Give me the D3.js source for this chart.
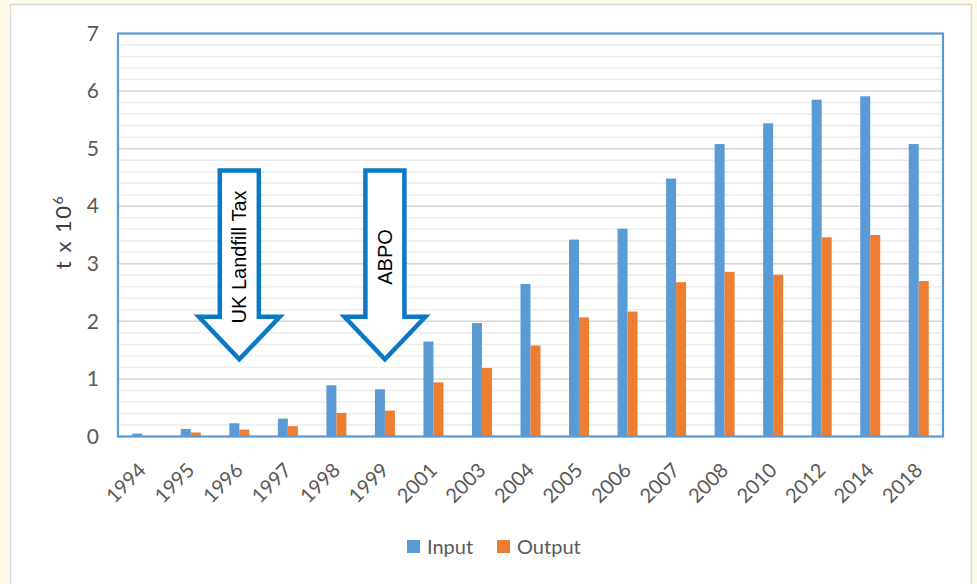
<!DOCTYPE html>
<html>
<head>
<meta charset="utf-8">
<script src="https://cdn.jsdelivr.net/npm/d3@7"></script>
<style>
  html, body { margin: 0; padding: 0; background: #fffbea; }
  svg { display: block; }
</style>
</head>
<body>
<svg id="chart" width="977" height="584"></svg>
<script>
// Years reported
const years = ["1994","1995","1996","1997","1998","1999","2001","2003","2004",
               "2005","2006","2007","2008","2010","2012","2014","2018"];
// Quantities, million tonnes
const inputValues  = [0.05,0.13,0.23,0.31,0.89,0.82,1.65,1.97,2.65,3.42,3.61,4.48,5.08,5.44,5.85,5.91,5.08];
const outputValues = [0.00,0.07,0.12,0.18,0.41,0.45,0.94,1.19,1.58,2.07,2.17,2.68,2.86,2.81,3.46,3.50,2.70];
const seriesNames  = ["Input", "Output"];
const yTicks = [0,1,2,3,4,5,6,7];
// Policy milestones: year, arrow top, head base and tip (in t x 10^6)
const milestoneLabels = ["UK Landfill Tax", "ABPO"];
const milestoneYears  = ["1996", "1999"];
const milestoneTop    = [4.62, 4.62];
const milestoneHead   = [2.08, 2.08];
const milestoneTip    = [1.34, 1.34];

const colors = { Input: "#5b9bd5", Output: "#ed7d31" };
const font = "Lato, 'Open Sans', sans-serif";

const svg = d3.select("#chart");

// white chart panel
svg.append("rect").attr("x", 10.5).attr("y", 4.5).attr("width", 961).attr("height", 600)
  .attr("fill", "#ffffff").attr("stroke", "#d9d9d9").attr("stroke-width", 1.5);

const m = { left: 118, right: 943, top: 33.5, bottom: 436.5 };

const x = d3.scaleBand().domain(years).range([m.left, m.right]).padding(0);
const y = d3.scaleLinear().domain([0, 7]).range([m.bottom, m.top]);

// minor gridlines
const minor = d3.range(0, 7.001, 0.2).filter(v => Math.abs(v - Math.round(v)) > 1e-6);
svg.append("g").selectAll("line").data(minor).join("line")
  .attr("x1", m.left).attr("x2", m.right)
  .attr("y1", d => y(d)).attr("y2", d => y(d))
  .attr("stroke", "#ececec").attr("stroke-width", 1.5);

// major gridlines
svg.append("g").selectAll("line").data(yTicks).join("line")
  .attr("x1", m.left).attr("x2", m.right)
  .attr("y1", d => y(d)).attr("y2", d => y(d))
  .attr("stroke", "#d6d6d6").attr("stroke-width", 1.5);

// bars
const barW = 10;
const rows = years.map((yr, i) => ({ year: yr, Input: inputValues[i], Output: outputValues[i] }));
const sub = d3.scaleBand().domain(seriesNames).range([-barW, barW]);
svg.append("g").selectAll("g").data(rows).join("g")
  .attr("transform", d => `translate(${x(d.year) + x.bandwidth() / 2},0)`)
  .selectAll("rect").data(d => seriesNames.map(s => ({ s, v: d[s] }))).join("rect")
  .attr("x", d => sub(d.s)).attr("width", sub.bandwidth())
  .attr("y", d => y(d.v)).attr("height", d => y(0) - y(d.v))
  .attr("fill", d => colors[d.s]);

// plot area frame
svg.append("rect").attr("x", m.left).attr("y", m.top)
  .attr("width", m.right - m.left).attr("height", m.bottom - m.top)
  .attr("fill", "none").attr("stroke", "#5b9bd5").attr("stroke-width", 2.2);

// y axis labels
const yAxis = d3.axisLeft(y).tickValues(yTicks).tickFormat(d3.format("d")).tickSize(0).tickPadding(19);
const gy = svg.append("g").attr("transform", `translate(${m.left},0)`).call(yAxis);
gy.select(".domain").remove();
gy.selectAll("text").attr("font-family", font).attr("font-size", 21).attr("fill", "#595959");

// x axis labels, rotated
const xAxis = d3.axisBottom(x).tickSize(0).tickPadding(0);
const gx = svg.append("g").attr("transform", `translate(0,${m.bottom})`).call(xAxis);
gx.select(".domain").remove();
gx.selectAll("text")
  .attr("font-family", font).attr("font-size", 20).attr("fill", "#595959")
  .attr("text-anchor", "end")
  .attr("transform", "translate(0,30) rotate(-45)")
  .attr("dy", "0.35em").attr("y", 0);

// y axis title
const yt = svg.append("text")
  .attr("transform", `translate(71,232) rotate(-90)`)
  .attr("text-anchor", "middle")
  .attr("font-family", font).attr("font-size", 22).attr("letter-spacing", 1.5)
  .attr("fill", "#404040");
yt.append("tspan").text("t x 10");
yt.append("tspan").text("6").attr("font-size", 14).attr("dy", "-0.6em");

// milestone arrows
const shaftHalf = 19.5, headHalf = 40.5;
milestoneLabels.forEach((label, i) => {
  const cx = x(milestoneYears[i]) + x.bandwidth() / 2;
  const top = y(milestoneTop[i]), head = y(milestoneHead[i]), tip = y(milestoneTip[i]);
  const pts = [
    [cx - shaftHalf, top], [cx + shaftHalf, top], [cx + shaftHalf, head],
    [cx + headHalf, head], [cx, tip], [cx - headHalf, head], [cx - shaftHalf, head]
  ];
  svg.append("path")
    .attr("d", d3.line()(pts) + "Z")
    .attr("fill", "#ffffff").attr("stroke", "#0a78c4").attr("stroke-width", 4.5)
    .attr("stroke-linejoin", "miter");
  svg.append("text")
    .attr("transform", `translate(${cx + 7},${(top + tip) / 2 - 8}) rotate(-90)`)
    .attr("text-anchor", "middle")
    .attr("font-family", "'Liberation Sans', Arial, sans-serif")
    .attr("font-size", 20).attr("fill", "#000000")
    .text(label);
});

// legend
const legend = svg.append("g").attr("transform", "translate(407,540)");
const legendX = [0, 90];
seriesNames.forEach((s, i) => {
  const g = legend.append("g").attr("transform", `translate(${legendX[i]},0)`);
  g.append("rect").attr("width", 13).attr("height", 13).attr("fill", colors[s]);
  g.append("text").attr("x", 20).attr("y", 7).attr("dy", "0.35em")
    .attr("font-family", font).attr("font-size", 20).attr("fill", "#595959").text(s);
});
</script>
</body>
</html>
